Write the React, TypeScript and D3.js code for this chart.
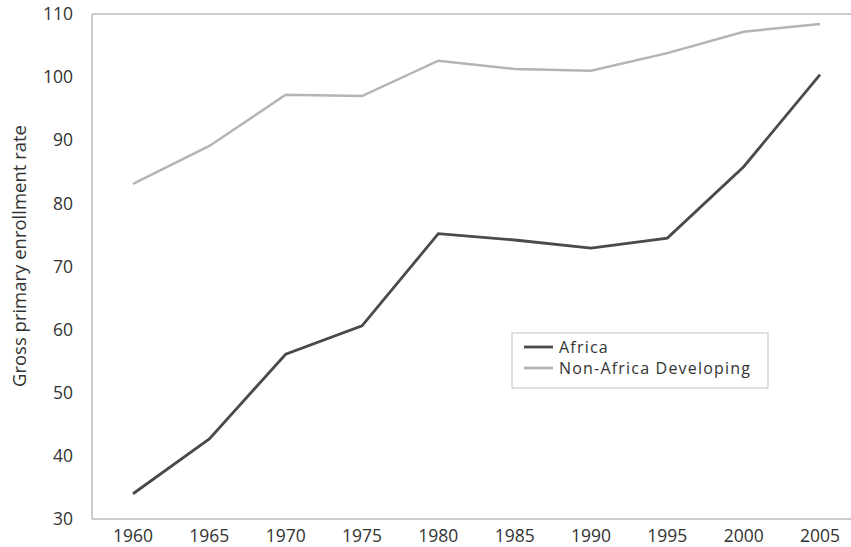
import React from "react";
import * as d3 from "d3";

const years = [1960, 1965, 1970, 1975, 1980, 1985, 1990, 1995, 2000, 2005];
const africa = [34.0, 42.7, 56.1, 60.6, 75.2, 74.2, 72.9, 74.5, 85.8, 100.4];
const nonAfrica = [83.1, 89.1, 97.2, 97.0, 102.6, 101.3, 101.0, 103.8, 107.2, 108.4];
const yTicks = [30, 40, 50, 60, 70, 80, 90, 100, 110];
const seriesNames = ["Africa", "Non-Africa Developing"];

const W = 851;
const H = 547;
const left = 92;
const top = 14;
const bottom = 519;

export default function App() {
  const x = d3.scaleLinear().domain([1960, 2005]).range([133, 820]);
  const y = d3.scaleLinear().domain([30, 110]).range([bottom, top]);
  const line = d3
    .line<number>()
    .x((_, i) => x(years[i]))
    .y((d) => y(d));
  const font = "'Open Sans', 'DejaVu Sans', sans-serif";
  const colors = ["#4a4a4a", "#b4b4b4"];
  return (
    <svg
      width={W}
      height={H}
      style={{ position: "absolute", left: 0, top: 0, background: "#fff" }}
      fontFamily={font}
    >
      <line x1={left} x2={W} y1={top} y2={top} stroke="#bbb" strokeWidth={1.5} />
      <line x1={left} x2={left} y1={top} y2={bottom} stroke="#bbb" strokeWidth={1.5} />
      <line x1={left} x2={W} y1={bottom} y2={bottom} stroke="#bbb" strokeWidth={1.5} />
      {yTicks.map((t) => (
        <text
          key={t}
          x={73}
          y={y(t)}
          dy="0.35em"
          textAnchor="end"
          fontSize={17.5}
          fill="#333"
        >
          {t}
        </text>
      ))}
      {years.map((yr) => (
        <text
          key={yr}
          x={x(yr)}
          y={542}
          textAnchor="middle"
          fontSize={17.5}
          fill="#333"
        >
          {yr}
        </text>
      ))}
      <text
        transform={`translate(26, 256) rotate(-90)`}
        textAnchor="middle"
        fontSize={18.5}
        fill="#333"
      >
        Gross primary enrollment rate
      </text>
      <path d={line(nonAfrica) || ""} fill="none" stroke={colors[1]} strokeWidth={2.5} />
      <path d={line(africa) || ""} fill="none" stroke={colors[0]} strokeWidth={2.8} />
      <rect x={512} y={333} width={256} height={55} fill="#fff" stroke="#ccc" strokeWidth={1.2} />
      {seriesNames.map((n, i) => (
        <g key={n}>
          <line
            x1={524}
            x2={553}
            y1={347 + i * 21}
            y2={347 + i * 21}
            stroke={colors[i]}
            strokeWidth={2.8}
          />
          <text
            x={559}
            y={347 + i * 21}
            dy="0.35em"
            fontSize={16}
            letterSpacing={1.2}
            fill="#333"
          >
            {n}
          </text>
        </g>
      ))}
    </svg>
  );
}
